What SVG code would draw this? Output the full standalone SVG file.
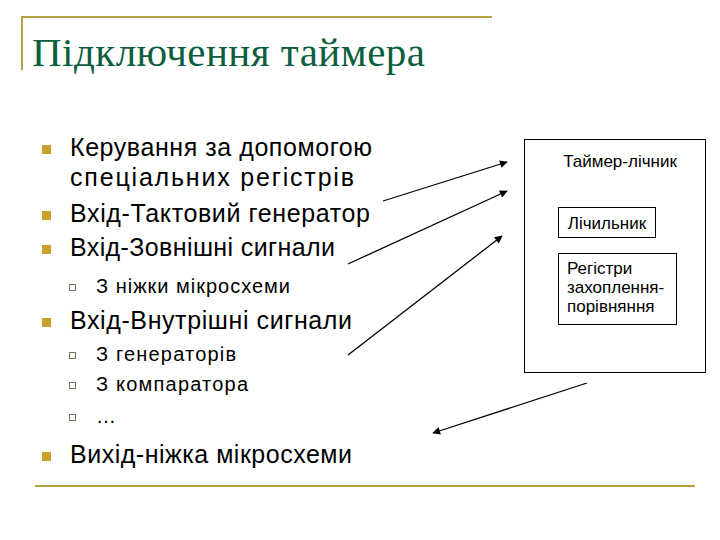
<svg xmlns="http://www.w3.org/2000/svg" width="720" height="540" viewBox="0 0 720 540">
<defs>
<style>
.t{font-family:"Liberation Sans",Arial,sans-serif;fill:#000}
.m{font-size:25px}
.s{font-size:20px}
.b{font-size:17px}
.bul{fill:#c9a02a}
.sub{fill:#fff;stroke:#6b7a5a;stroke-width:1}
.box{fill:#fff;stroke:#000;stroke-width:1}
.c{stroke:#000;stroke-width:1.3;fill:none;marker-end:url(#ah)}
</style>
<marker id="ah" viewBox="0 0 10 10" refX="9" refY="5" markerWidth="8" markerHeight="6" orient="auto"><path d="M0,0L10,5L0,10z" fill="#000"/></marker>
</defs>
<rect width="720" height="540" fill="#fff"/>
<g id="frame" stroke="#b8a044" stroke-width="2" fill="none">
<path d="M22,70V17H492"/>
<path d="M35,486H695"/>
</g>
<text x="32" y="66" font-family="Liberation Serif,serif" font-size="41" fill="#0b5e3e" textLength="393">Підключення таймера</text>
<g id="list">
<rect class="bul" x="42" y="145" width="9" height="9"/>
<text class="t m" x="70" y="156" textLength="302">Керування за допомогою</text>
<text class="t m" x="70" y="186" textLength="284">спеціальних регістрів</text>
<rect class="bul" x="42" y="211" width="9" height="9"/>
<text class="t m" x="70" y="222" textLength="300">Вхід-Тактовий генератор</text>
<rect class="bul" x="42" y="245" width="9" height="9"/>
<text class="t m" x="70" y="256" textLength="265">Вхід-Зовнішні сигнали</text>
<rect class="sub" x="69.5" y="284.5" width="6" height="6"/>
<text class="t s" x="96" y="293" textLength="194">З ніжки мікросхеми</text>
<rect class="bul" x="42" y="318" width="9" height="9"/>
<text class="t m" x="70" y="329" textLength="282">Вхід-Внутрішні сигнали</text>
<rect class="sub" x="69.5" y="352.5" width="6" height="6"/>
<text class="t s" x="96" y="361" textLength="140">З генераторів</text>
<rect class="sub" x="69.5" y="382.5" width="6" height="6"/>
<text class="t s" x="96" y="391" textLength="152">З компаратора</text>
<rect class="sub" x="69.5" y="414.5" width="6" height="6"/>
<text class="t s" x="96" y="423">…</text>
<rect class="bul" x="42" y="452" width="9" height="9"/>
<text class="t m" x="70" y="463" textLength="282">Вихід-ніжка мікросхеми</text>
</g>
<g id="timer">
<rect class="box" x="524.5" y="139.5" width="181" height="233"/>
<text class="t b" x="620" y="167" text-anchor="middle">Таймер-лічник</text>
</g>
<g id="counter">
<rect class="box" x="558.5" y="207.5" width="97" height="30"/>
<text class="t b" x="607" y="229" text-anchor="middle">Лічильник</text>
</g>
<g id="regs">
<rect class="box" x="558.5" y="253.5" width="118" height="71"/>
<text class="t b" x="567" y="274">Регістри</text>
<text class="t b" x="567" y="293">захоплення-</text>
<text class="t b" x="567" y="312">порівняння</text>
</g>
<g id="connectors">
<line class="c" x1="383" y1="201" x2="507" y2="162"/>
<line class="c" x1="348" y1="264" x2="507" y2="191"/>
<line class="c" x1="348" y1="355" x2="502" y2="236"/>
<line class="c" x1="587" y1="383" x2="433" y2="433"/>
</g>
</svg>
